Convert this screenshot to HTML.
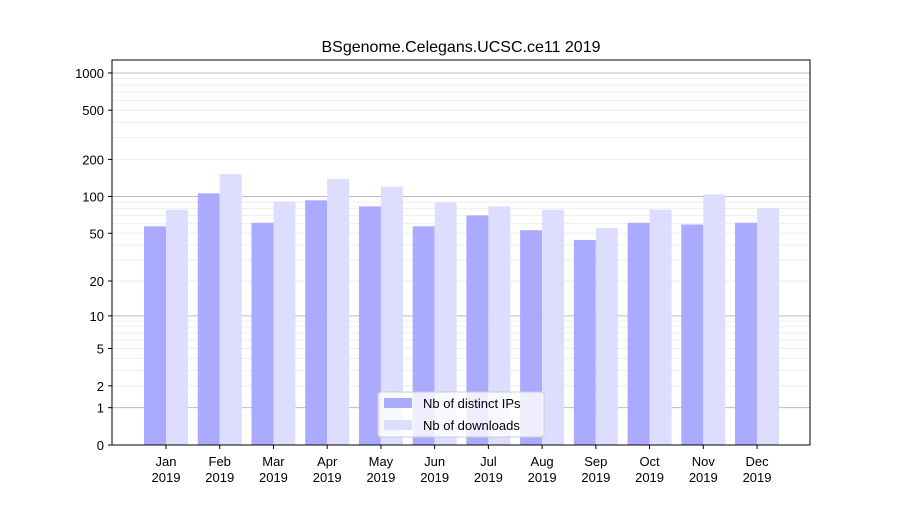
<!DOCTYPE html>
<html><head><meta charset="utf-8"><style>
body{margin:0;background:#fff;font-family:"Liberation Sans","DejaVu Sans",sans-serif}
</style></head><body>
<svg id="c" width="900" height="500" xmlns="http://www.w3.org/2000/svg" font-family="Liberation Sans, DejaVu Sans, sans-serif">
<rect width="900" height="500" fill="#fff"/>
<text x="461" y="52" text-anchor="middle" font-size="16">BSgenome.Celegans.UCSC.ce11 2019</text>
<g id="grid"></g><g id="bars"></g><g id="axes"></g>
</svg>
<script>
const months=["Jan","Feb","Mar","Apr","May","Jun","Jul","Aug","Sep","Oct","Nov","Dec"];
const ips=[57,106,61,93,83,57,70,53,44,61,59,61];
const downloads=[78,152,91,139,120,89,83,78,55,78,104,80];
const yTicks=[0,1,2,5,10,20,50,100,200,500,1000];
const NS="http://www.w3.org/2000/svg";
const L=112,R=810,T=60,B=445;
function y(v){return B-124*Math.log10(1+v);}
function x(i){return 166+i*53.73;}
function mk(t,a,p){const e=document.createElementNS(NS,t);for(const k in a)e.setAttribute(k,a[k]);p.appendChild(e);return e;}
const g=document.getElementById('grid'),b=document.getElementById('bars'),ax=document.getElementById('axes');
for(let d=1;d<=1000;d*=10){for(let m=1;m<10;m++){const v=d*m;if(v>1300)break;
const ln=mk('line',{x1:L,x2:R,y1:y(v),y2:y(v),stroke:m==1?'#bbb':'#eee','stroke-width':1},g);

}}
months.forEach((mo,i)=>{
const r1=mk('rect',{x:x(i)-22,y:y(ips[i]),width:22,height:B-y(ips[i]),fill:'#aaaaff'},b);


const r2=mk('rect',{x:x(i),y:y(downloads[i]),width:22,height:B-y(downloads[i]),fill:'#ddddff'},b);


mk('line',{x1:x(i),x2:x(i),y1:B,y2:B+4,stroke:'#000'},ax);
const t=mk('text',{x:x(i),y:B+21,'text-anchor':'middle','font-size':13},ax);t.textContent=mo;


const t2=mk('text',{x:x(i),y:B+37,'text-anchor':'middle','font-size':13},ax);t2.textContent='2019';


});
yTicks.forEach(v=>{
mk('line',{x1:L-4,x2:L,y1:y(v),y2:y(v),stroke:'#000'},ax);
const t=mk('text',{x:L-8,y:y(v)+5,'text-anchor':'end','font-size':13},ax);t.textContent=v;


});
const fr=mk('rect',{x:L,y:T,width:R-L,height:B-T,fill:'none',stroke:'#000','stroke-width':1},ax);


const lg=mk('g',{},ax);


mk('rect',{x:378,y:392,width:166,height:45,rx:3,fill:'#fff','fill-opacity':0.8,stroke:'#ccc'},lg);
mk('rect',{x:384,y:398,width:28,height:10,fill:'#aaaaff'},lg);
mk('rect',{x:384,y:420,width:28,height:10,fill:'#ddddff'},lg);
const l1=mk('text',{x:423,y:408,'font-size':13},lg);l1.textContent='Nb of distinct IPs';


const l2=mk('text',{x:423,y:430,'font-size':13},lg);l2.textContent='Nb of downloads';


</script>
</body></html>
